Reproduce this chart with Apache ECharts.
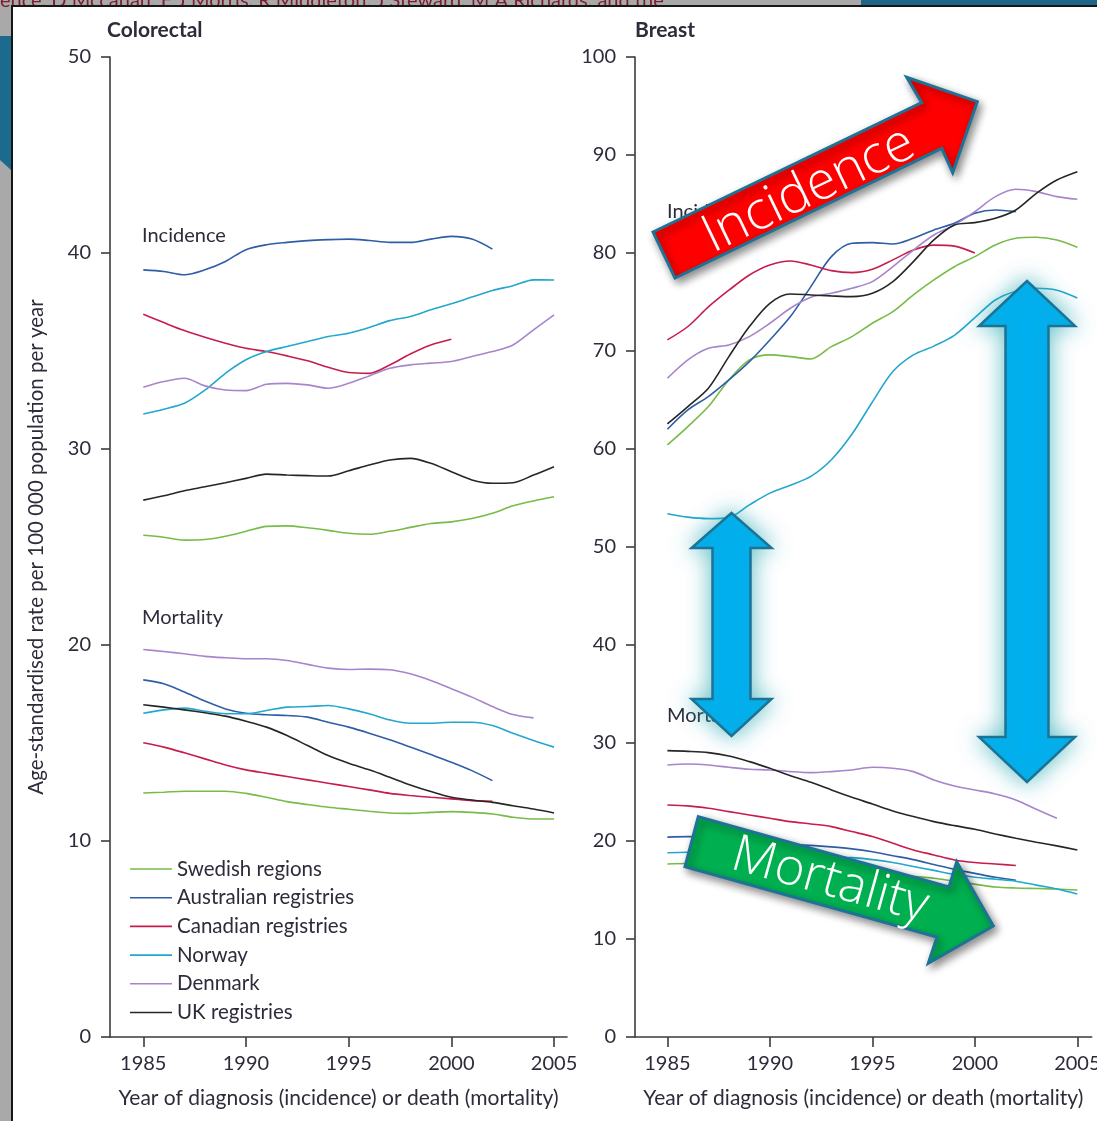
<!DOCTYPE html>
<html>
<head>
<meta charset="utf-8">
<title>Colorectal and breast cancer incidence and mortality</title>
<script src="https://cdn.jsdelivr.net/npm/echarts@6/dist/echarts.min.js"></script>
<style>
  html, body { margin: 0; padding: 0; background: #a9a9a9; }
  #chart { width: 1097px; height: 1121px; }
</style>
</head>
<body>
<div id="chart"></div>
<script>
// Years of diagnosis / death
const years = [1985, 1986, 1987, 1988, 1989, 1990, 1991, 1992, 1993, 1994, 1995,
               1996, 1997, 1998, 1999, 2000, 2001, 2002, 2003, 2004, 2005];
const yearTicks = [1985, 1990, 1995, 2000, 2005];
const countries = ['Swedish regions', 'Australian registries', 'Canadian registries', 'Norway', 'Denmark', 'UK registries'];

// Colorectal – incidence (age-standardised rate per 100 000)
const crcIncSweden    = [25.6, 25.5, 25.35, 25.38, 25.55, 25.8, 26.05, 26.08, 25.98, 25.85, 25.7, 25.65, 25.8, 26.0, 26.2, 26.28, 26.45, 26.72, 27.1, 27.35, 27.56];
const crcIncAustralia = [39.14, 39.06, 38.89, 39.14, 39.57, 40.17, 40.42, 40.54, 40.63, 40.68, 40.71, 40.64, 40.54, 40.54, 40.71, 40.85, 40.71, 40.2];
const crcIncCanada    = [36.88, 36.45, 36.04, 35.7, 35.4, 35.14, 34.97, 34.75, 34.5, 34.17, 33.9, 33.86, 34.29, 34.85, 35.31, 35.6];
const crcIncNorway    = [31.79, 32.03, 32.33, 33.0, 33.86, 34.55, 34.97, 35.23, 35.48, 35.74, 35.91, 36.2, 36.55, 36.76, 37.1, 37.41, 37.75, 38.09, 38.33, 38.63, 38.62];
const crcIncDenmark   = [33.15, 33.44, 33.61, 33.22, 33.01, 32.98, 33.3, 33.35, 33.27, 33.1, 33.35, 33.73, 34.12, 34.29, 34.38, 34.46, 34.72, 34.97, 35.31, 36.08, 36.84];
const crcIncUK        = [27.39, 27.61, 27.87, 28.07, 28.28, 28.5, 28.72, 28.67, 28.64, 28.62, 28.89, 29.18, 29.44, 29.52, 29.27, 28.84, 28.42, 28.25, 28.28, 28.67, 29.1];

// Colorectal – mortality
const crcMortSweden    = [12.45, 12.49, 12.54, 12.54, 12.54, 12.43, 12.23, 12.01, 11.86, 11.72, 11.62, 11.52, 11.43, 11.41, 11.46, 11.5, 11.46, 11.38, 11.21, 11.12, 11.12];
const crcMortAustralia = [18.22, 18.02, 17.6, 17.14, 16.74, 16.52, 16.44, 16.4, 16.32, 16.06, 15.81, 15.5, 15.16, 14.79, 14.41, 14.02, 13.59, 13.08];
const crcMortCanada    = [15.01, 14.79, 14.5, 14.19, 13.88, 13.63, 13.46, 13.29, 13.12, 12.95, 12.78, 12.61, 12.43, 12.32, 12.23, 12.15, 12.06, 12.03];
const crcMortNorway    = [16.52, 16.69, 16.78, 16.62, 16.49, 16.49, 16.66, 16.83, 16.86, 16.91, 16.74, 16.49, 16.18, 16.01, 16.01, 16.06, 16.06, 15.89, 15.5, 15.13, 14.79];
const crcMortDenmark   = [19.77, 19.67, 19.55, 19.42, 19.35, 19.3, 19.3, 19.21, 19.01, 18.82, 18.75, 18.77, 18.74, 18.53, 18.19, 17.77, 17.34, 16.86, 16.45, 16.28];
const crcMortUK        = [16.95, 16.83, 16.69, 16.54, 16.37, 16.11, 15.81, 15.38, 14.87, 14.36, 13.97, 13.63, 13.25, 12.86, 12.52, 12.23, 12.09, 11.97, 11.8, 11.63, 11.43];

// Breast – incidence
const brIncSweden    = [60.42, 62.29, 64.33, 67.05, 69.09, 69.6, 69.43, 69.19, 70.45, 71.47, 72.83, 74.02, 75.72, 77.25, 78.6, 79.63, 80.82, 81.5, 81.6, 81.33, 80.58];
const brIncAustralia = [62.02, 64.0, 65.35, 67.05, 68.92, 71.13, 73.51, 76.57, 79.63, 80.99, 81.06, 80.92, 81.5, 82.35, 83.03, 84.05, 84.39, 84.22];
const brIncCanada    = [71.13, 72.5, 74.5, 76.2, 77.76, 78.78, 79.19, 78.78, 78.2, 78.0, 78.34, 79.3, 80.3, 80.8, 80.7, 80.0];
const brIncNorway    = [53.4, 53.05, 52.9, 53.0, 54.3, 55.5, 56.3, 57.2, 58.9, 61.5, 64.8, 67.9, 69.6, 70.5, 71.6, 73.4, 75.2, 76.1, 76.4, 76.2, 75.4];
const brIncDenmark   = [67.22, 69.1, 70.28, 70.62, 71.47, 72.83, 74.36, 75.48, 75.89, 76.4, 77.08, 78.6, 80.3, 81.84, 82.86, 84.22, 85.75, 86.5, 86.26, 85.75, 85.48];
const brIncUK        = [62.56, 64.33, 66.2, 69.43, 72.49, 74.87, 75.82, 75.72, 75.62, 75.55, 75.89, 77.08, 79.12, 81.33, 82.86, 83.1, 83.54, 84.39, 86.09, 87.45, 88.3];

// Breast – mortality
const brMortSweden    = [17.65, 17.7, 17.7, 17.6, 17.5, 17.4, 17.3, 17.2, 17.1, 17.0, 16.8, 16.6, 16.4, 16.2, 15.9, 15.6, 15.3, 15.2, 15.15, 15.1, 15.0];
const brMortAustralia = [20.4, 20.45, 20.4, 20.2, 20.0, 19.8, 19.65, 19.55, 19.4, 19.2, 18.9, 18.5, 18.1, 17.6, 17.1, 16.7, 16.3, 16.0];
const brMortCanada    = [23.68, 23.58, 23.34, 23.0, 22.66, 22.32, 21.98, 21.74, 21.47, 20.96, 20.45, 19.77, 19.09, 18.58, 18.07, 17.8, 17.66, 17.5];
const brMortNorway    = [18.8, 18.85, 18.9, 18.9, 18.8, 18.7, 18.6, 18.5, 18.4, 18.3, 18.1, 17.8, 17.4, 17.0, 16.6, 16.3, 16.1, 15.9, 15.5, 15.1, 14.6];
const brMortDenmark   = [27.76, 27.86, 27.76, 27.52, 27.32, 27.25, 27.08, 26.98, 27.08, 27.25, 27.52, 27.42, 27.08, 26.23, 25.62, 25.21, 24.8, 24.19, 23.24, 22.32];
const brMortUK        = [29.22, 29.15, 29.02, 28.68, 28.1, 27.42, 26.67, 25.99, 25.21, 24.46, 23.78, 23.07, 22.49, 21.98, 21.57, 21.2, 20.72, 20.28, 19.87, 19.5, 19.09];

const colors = {
  'Swedish regions': '#77bb48',
  'Australian registries': '#2d5ea6',
  'Canadian registries': '#c61d4c',
  'Norway': '#22a7cd',
  'Denmark': '#a884cc',
  'UK registries': '#262626'
};

const FONT = 'Lato, "Noto Sans", sans-serif';
const TEXT = '#2c2c3a';
const AXIS = '#3c3c3c';

function pairs(values) {
  return values.map((v, i) => [years[i], v]);
}

function line(name, values, axisIndex) {
  return {
    type: 'line',
    name: name,
    xAxisIndex: axisIndex,
    yAxisIndex: axisIndex,
    data: pairs(values),
    symbol: 'none',
    smooth: 0.3,
    lineStyle: { width: 1.6, color: colors[name] },
    itemStyle: { color: colors[name] },
    emphasis: { disabled: true },
    z: 3
  };
}

const panels = [
  { inc: [crcIncSweden, crcIncAustralia, crcIncCanada, crcIncNorway, crcIncDenmark, crcIncUK],
    mort: [crcMortSweden, crcMortAustralia, crcMortCanada, crcMortNorway, crcMortDenmark, crcMortUK] },
  { inc: [brIncSweden, brIncAustralia, brIncCanada, brIncNorway, brIncDenmark, brIncUK],
    mort: [brMortSweden, brMortAustralia, brMortCanada, brMortNorway, brMortDenmark, brMortUK] }
];

const series = [];
panels.forEach((p, axisIndex) => {
  countries.forEach((c, i) => {
    series.push(line(c, p.inc[i], axisIndex));
    series.push(line(c, p.mort[i], axisIndex));
  });
});

function xAxis(gridIndex, min, max) {
  return {
    type: 'value', gridIndex: gridIndex, min: min, max: max,
    name: 'Year of diagnosis (incidence) or death (mortality)',
    nameLocation: 'middle', nameGap: 51,
    nameTextStyle: { fontFamily: FONT, fontSize: 21, color: TEXT },
    axisLine: { onZero: false, lineStyle: { color: AXIS, width: 1.6 } },
    axisTick: { show: true, length: 10, customValues: yearTicks, lineStyle: { color: AXIS, width: 1.6 } },
    axisLabel: { customValues: yearTicks, formatter: v => String(v), fontFamily: FONT, fontSize: 20, color: TEXT, margin: 17 },
    splitLine: { show: false }
  };
}

function yAxis(gridIndex, max, name) {
  return {
    type: 'value', gridIndex: gridIndex, min: 0, max: max, interval: 10,
    name: name, nameLocation: 'middle', nameGap: 63, nameRotate: 90,
    nameTextStyle: { fontFamily: FONT, fontSize: 20.5, color: TEXT },
    axisLine: { show: true, onZero: false, lineStyle: { color: AXIS, width: 1.6 } },
    axisTick: { show: true, length: 9, lineStyle: { color: AXIS, width: 1.6 } },
    axisLabel: { fontFamily: FONT, fontSize: 20, color: TEXT, margin: 19 },
    splitLine: { show: false }
  };
}

const deg = Math.PI / 180;

// Bold coloured overlay arrows with their captions
const arrowStroke = '#1d7396';
const glow = { shadowBlur: 22, shadowColor: 'rgba(40,170,180,0.75)' };

function doubleArrow(cx, top, headTop, headBottom, bottom, halfHead, halfShaft) {
  return {
    type: 'polygon', z: 100,
    shape: { points: [
      [cx, top], [cx + halfHead, headTop], [cx + halfShaft, headTop], [cx + halfShaft, headBottom],
      [cx + halfHead, headBottom], [cx, bottom], [cx - halfHead, headBottom], [cx - halfShaft, headBottom],
      [cx - halfShaft, headTop], [cx - halfHead, headTop]
    ] },
    style: Object.assign({ fill: '#00b0f0', stroke: arrowStroke, lineWidth: 2.5 }, glow)
  };
}

const graphics = [
  // slide surround
  { type: 'rect', z: -20, shape: { x: 861, y: 0, width: 236, height: 6 }, style: { fill: '#1d6688' } },
  { type: 'polygon', z: -20, shape: { points: [[0, 36], [11, 36], [11, 170], [0, 160]] }, style: { fill: '#1c6b8e' } },
  { type: 'text', z: -20, style: { x: 0, y: 11, text: 'ence, D Mccahan, E J Morris, R Middleton, J Steward, M A Richards, and the',
      fill: '#7b1d2e', font: '20px ' + FONT, textVerticalAlign: 'bottom' } },
  { type: 'rect', z: -10, shape: { x: 12, y: 6, width: 1100, height: 1130 },
    style: { fill: '#ffffff', stroke: '#161616', lineWidth: 2 } },

  // panel titles
  { type: 'text', z: 5, style: { x: 107, y: 30, text: 'Colorectal', fill: TEXT, font: 'bold 21px ' + FONT, textVerticalAlign: 'middle' } },
  { type: 'text', z: 5, style: { x: 635, y: 30, text: 'Breast', fill: TEXT, font: 'bold 21px ' + FONT, textVerticalAlign: 'middle' } },

  // group labels inside the panels
  { type: 'text', z: 5, style: { x: 142, y: 236, text: 'Incidence', fill: TEXT, font: '20px ' + FONT, textVerticalAlign: 'middle' } },
  { type: 'text', z: 5, style: { x: 142, y: 618, text: 'Mortality', fill: TEXT, font: '20px ' + FONT, textVerticalAlign: 'middle' } },
  { type: 'text', z: 5, style: { x: 667, y: 212, text: 'Incidence', fill: TEXT, font: '20px ' + FONT, textVerticalAlign: 'middle' } },
  { type: 'text', z: 5, style: { x: 667, y: 716, text: 'Mortality', fill: TEXT, font: '20px ' + FONT, textVerticalAlign: 'middle' } },

  // rising incidence arrow
  { type: 'polygon', z: 100,
    shape: { points: [[653, 232], [921.7, 102.7], [906.7, 77.3], [977.3, 101.7], [952.7, 172.7], [941.7, 148.3], [675, 278]] },
    style: { fill: '#ff0000', stroke: arrowStroke, lineWidth: 3, shadowBlur: 8, shadowOffsetX: 3, shadowOffsetY: 4, shadowColor: 'rgba(0,0,0,0.45)' } },
  { type: 'text', z: 101, x: 809, y: 190, rotation: 25.7 * deg,
    style: { x: 0, y: 0, text: 'Incidence', fill: '#ffffff', font: '300 53px "Open Sans", ' + FONT, textAlign: 'center', textVerticalAlign: 'middle' } },

  // falling mortality arrow
  { type: 'polygon', z: 100,
    shape: { points: [[698.3, 816.7], [949, 887], [956.7, 861.7], [993.3, 926], [928.3, 963.3], [937, 937], [685, 866.7]] },
    style: { fill: '#00b050', stroke: arrowStroke, lineWidth: 3, shadowBlur: 8, shadowOffsetX: 3, shadowOffsetY: 4, shadowColor: 'rgba(0,0,0,0.45)' } },
  { type: 'text', z: 101, x: 830, y: 881, rotation: -15.6 * deg,
    style: { x: 0, y: 0, text: 'Mortality', fill: '#ffffff', font: '300 51px "Open Sans", ' + FONT, textAlign: 'center', textVerticalAlign: 'middle' } },

  // gap between incidence and mortality
  doubleArrow(731.5, 513, 548, 699, 736, 40, 19),
  doubleArrow(1027, 281, 326, 737, 782, 48, 21.5)
];

const option = {
  backgroundColor: '#a9a9a9',
  animation: false,
  textStyle: { fontFamily: FONT },
  grid: [
    { left: 110, top: 57, width: 457, height: 980, outerBoundsMode: 'none', containLabel: false },
    { left: 635, top: 57, width: 456.7, height: 980, outerBoundsMode: 'none', containLabel: false }
  ],
  xAxis: [xAxis(0, 1983.38, 2005.63), xAxis(1, 1983.42, 2005.7)],
  yAxis: [yAxis(0, 50, 'Age-standardised rate per 100 000 population per year'), yAxis(1, 100, '')],
  legend: {
    data: countries,
    orient: 'vertical',
    left: 130, top: 858,
    icon: 'rect',
    itemWidth: 42, itemHeight: 1.6, itemGap: 6.7,
    padding: 0,
    selectedMode: false,
    textStyle: { fontFamily: FONT, fontSize: 20.5, color: TEXT, lineHeight: 22 }
  },
  graphic: graphics,
  series: series
};

const chart = echarts.init(document.getElementById('chart'), null, { renderer: 'canvas' });
chart.setOption(option);
</script>
</body>
</html>
